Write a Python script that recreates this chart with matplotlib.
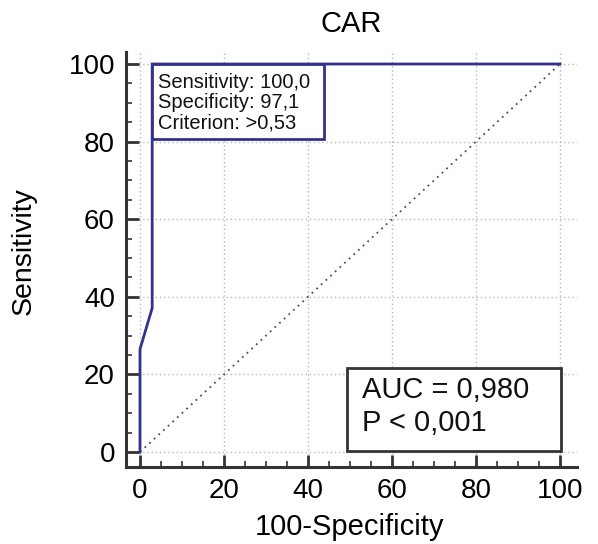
import matplotlib
matplotlib.use("Agg")
import matplotlib.pyplot as plt
from matplotlib.patches import Rectangle
from matplotlib.ticker import MultipleLocator

plt.rcParams['font.family'] = ['Liberation Sans', 'DejaVu Sans']

# ROC curve data (100-Specificity, Sensitivity)
roc_x = [0, 0, 2.9, 2.9, 100]
roc_y = [0, 26.5, 37.1, 100, 100]
diag_x = [0, 100]
diag_y = [0, 100]

title = "CAR"
xlabel = "100-Specificity"
ylabel = "Sensitivity"
ticks = [0, 20, 40, 60, 80, 100]
info_lines = ["Sensitivity: 100,0", "Specificity: 97,1", "Criterion: >0,53"]
auc_lines = ["AUC = 0,980", "P < 0,001"]

W, H = 598, 544
fig = plt.figure(figsize=(W / 100, H / 100), dpi=100)
# data 0 at x=140, 100 at x=560; y 0 at 452, 100 at 64
x0, x100 = 140, 560
y0, y100 = 452, 64
sx = (x100 - x0) / 100
sy = (y0 - y100) / 100
xmin, xmax = -3.33, 104.0
ymin, ymax = -3.87, 103
left = x0 + xmin * sx
right = x0 + xmax * sx
bottom = y0 - ymin * sy
top = y0 - ymax * sy
ax = fig.add_axes([left / W, 1 - bottom / H, (right - left) / W, (bottom - top) / H])
ax.set_xlim(xmin, xmax)
ax.set_ylim(ymin, ymax)

for s in ['top', 'right']:
    ax.spines[s].set_visible(False)
for s in ['left', 'bottom']:
    ax.spines[s].set_linewidth(2.2)
    ax.spines[s].set_color('#333333')

ax.set_xticks(ticks)
ax.set_yticks(ticks)
ax.xaxis.set_minor_locator(MultipleLocator(5))
ax.yaxis.set_minor_locator(MultipleLocator(5))
ax.tick_params(which='major', direction='in', length=9, width=2, color='#333333',
               labelsize=20, pad=8)
ax.tick_params(which='minor', direction='in', length=4.5, width=1.2, color='#333333')

ax.grid(True, which='major', color='#b8b8b8', linestyle=(0, (1, 2)), linewidth=1)
ax.set_axisbelow(True)

ax.plot(diag_x, diag_y, color='#5a4a4a', linestyle=(0, (1, 2.5)), linewidth=1.3, zorder=2)
ax.plot(roc_x, roc_y, color='#32328c', linewidth=2, zorder=3, solid_joinstyle='miter')

ax.add_patch(Rectangle((2.9, 80.7), 43.8 - 2.9, 100 - 80.7, facecolor='white',
                       edgecolor='#32328c', linewidth=2, zorder=4))
for txt, yy in zip(info_lines, [95.3, 90.1, 84.7]):
    ax.text(4.4, yy, txt, fontsize=14.5, va='center', ha='left', color='#111111', zorder=5)

ax.add_patch(Rectangle((49.3, 0.3), 100.2 - 49.3, 21.6 - 0.3, facecolor='white',
                       edgecolor='#333333', linewidth=2, zorder=4))
for txt, yy in zip(auc_lines, [15.9, 7.4]):
    ax.text(52.8, yy, txt, fontsize=21, va='center', ha='left', color='#111111', zorder=5)

fig.text(351 / W, 1 - 24 / H, title, fontsize=21, ha='center', va='center')
fig.text(349 / W, 1 - 527 / H, xlabel, fontsize=21, ha='center', va='center')
fig.text(24 / W, 1 - 251 / H, ylabel, fontsize=20.5, ha='center', va='center', rotation=90)

fig.savefig("out.png", dpi=100, facecolor='white')
